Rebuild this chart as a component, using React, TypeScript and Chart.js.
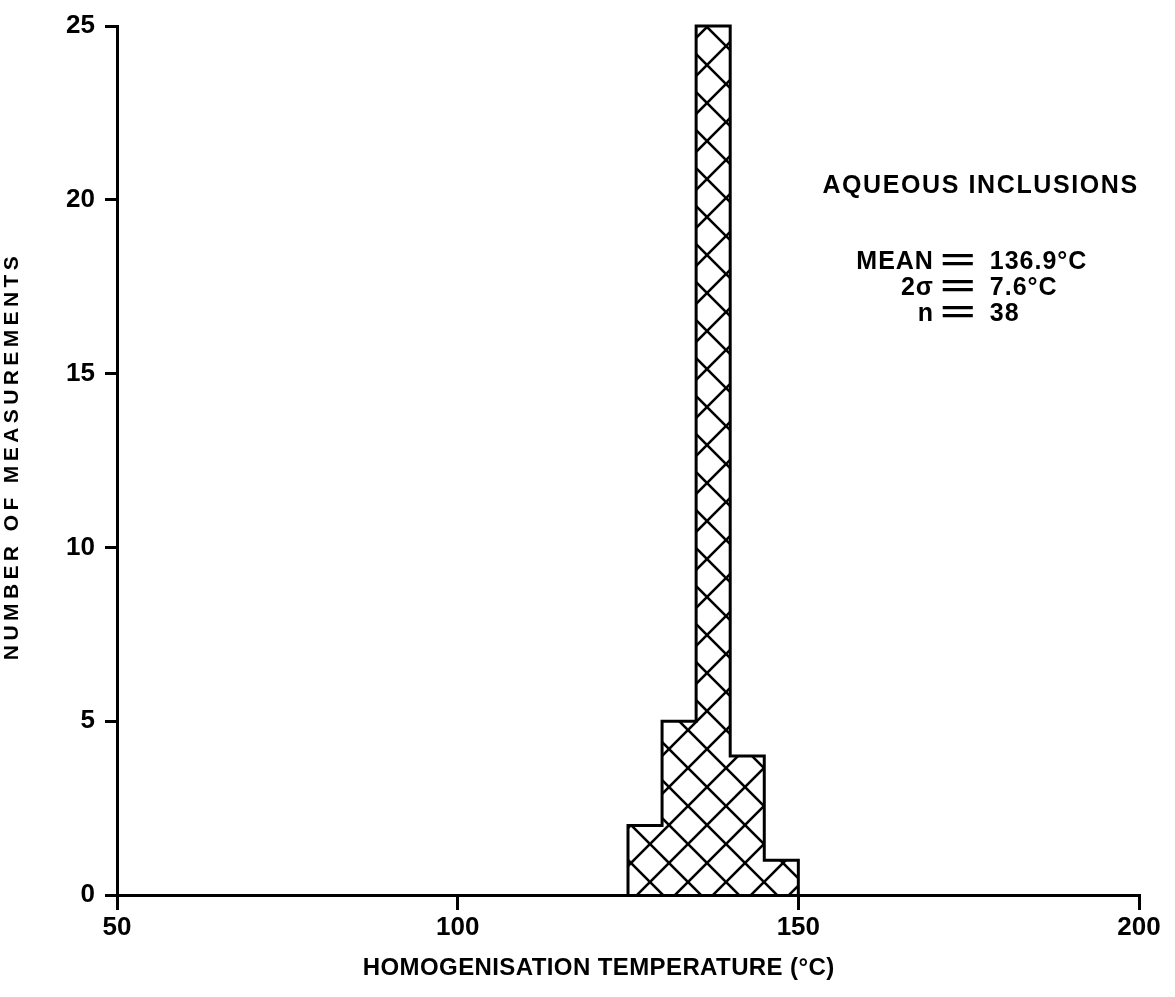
import { useEffect, useRef } from "react";
import { Chart, registerables } from "chart.js";

Chart.register(...registerables);

// ---- data ----
const binStarts = [125, 130, 135, 140, 145];
const binWidth = 5;
const counts = [2, 5, 25, 4, 1];
const xTicks = [50, 100, 150, 200];
const yTicks = [0, 5, 10, 15, 20, 25];
const xTitle = "HOMOGENISATION TEMPERATURE (°C)";
const yTitle = "NUMBER OF MEASUREMENTS";
const annoTitle = "AQUEOUS INCLUSIONS";
const statLeft = ["MEAN", "2σ", "n"];
const statRight = ["136.9°C", "7.6°C", "38"];

const FONT = '"Liberation Sans", Arial, Helvetica, sans-serif';

function buildOutline() {
  const pts: { x: number; y: number }[] = [{ x: binStarts[0], y: 0 }];
  binStarts.forEach((s, i) => {
    pts.push({ x: s, y: counts[i] });
    pts.push({ x: s + binWidth, y: counts[i] });
  });
  pts.push({ x: binStarts[binStarts.length - 1] + binWidth, y: 0 });
  return pts;
}

function makePattern(): CanvasPattern | string {
  const size = 38;
  const c = document.createElement("canvas");
  c.width = size;
  c.height = size;
  const g = c.getContext("2d");
  if (!g) return "rgba(0,0,0,0.2)";
  g.strokeStyle = "#000";
  g.lineWidth = 2.6;
  for (const dx of [-size, 0, size]) {
    g.beginPath();
    g.moveTo(dx, 0);
    g.lineTo(dx + size, size);
    g.stroke();
    g.beginPath();
    g.moveTo(dx + size, 0);
    g.lineTo(dx, size);
    g.stroke();
  }
  const p = g.createPattern(c, "repeat");
  if (!p) return "rgba(0,0,0,0.2)";
  try {
    p.setTransform(new DOMMatrix([1, 0, 0, 1, 4, 8]));
  } catch (e) {
    /* ignore */
  }
  return p;
}

const textPlugin = {
  id: "customTexts",
  afterDraw(chart: any) {
    const { ctx } = chart;
    const xs = chart.scales.x;
    const ys = chart.scales.y;
    ctx.save();
    ctx.fillStyle = "#000";
    ctx.textBaseline = "middle";

    // annotation title
    ctx.textAlign = "center";
    ctx.font = `bold 25px ${FONT}`;
    (ctx as any).letterSpacing = "1.6px";
    ctx.fillText(annoTitle, xs.getPixelForValue(176.6) + 1, ys.getPixelForValue(20.4));

    // statistics, aligned on the equals sign
    (ctx as any).letterSpacing = "1px";
    const leftX = xs.getPixelForValue(169.9);
    const eqX = xs.getPixelForValue(173.4);
    const rightX = xs.getPixelForValue(178.1);
    const statY = [18.2, 17.46, 16.72];
    statLeft.forEach((t, i) => {
      const yy = ys.getPixelForValue(statY[i]);
      ctx.textAlign = "right";
      ctx.fillText(t, leftX, yy);
      ctx.textAlign = "left";
      ctx.fillText(statRight[i], rightX, yy);
      ctx.save();
      ctx.textAlign = "center";
      (ctx as any).letterSpacing = "0px";
      ctx.translate(eqX, yy);
      ctx.scale(2.4, 1.15);
      ctx.fillText("=", 0, 0);
      ctx.restore();
    });

    // x title
    ctx.textAlign = "center";
    (ctx as any).letterSpacing = "0.4px";
    ctx.font = `bold 24px ${FONT}`;
    ctx.fillText(xTitle, xs.getPixelForValue(120.7), chart.height - 29);

    // y title
    ctx.font = `bold 21px ${FONT}`;
    (ctx as any).letterSpacing = "4.4px";
    ctx.translate(12, ys.getPixelForValue(12.63));
    ctx.rotate(-Math.PI / 2);
    ctx.fillText(yTitle, 0, 0);
    ctx.restore();
  },
};

export default function App() {
  const ref = useRef<HTMLCanvasElement>(null);

  useEffect(() => {
    const canvas = ref.current;
    if (!canvas) return;
    const pattern = makePattern();
    const chart = new Chart(canvas, {
      type: "line",
      data: {
        datasets: [
          {
            data: buildOutline(),
            borderColor: "#000",
            borderWidth: 3,
            backgroundColor: pattern as any,
            fill: "origin",
            pointRadius: 0,
            tension: 0,
            clip: 10 as any,
            borderJoinStyle: "miter",
          },
        ],
      },
      options: {
        responsive: false,
        animation: false,
        devicePixelRatio: 1,
        layout: { padding: { top: 26, right: 36, left: 0, bottom: 0 } },
        plugins: {
          legend: { display: false },
          tooltip: { enabled: false },
        },
        scales: {
          x: {
            type: "linear",
            min: 50,
            max: 200,
            afterBuildTicks: (s: any) => {
              s.ticks = xTicks.map((v) => ({ value: v }));
            },
            afterFit: (s: any) => {
              s.height = 102;
            },
            ticks: {
              color: "#000",
              font: { family: FONT, size: 26, weight: "bold" },
              padding: 2,
              maxRotation: 0,
              autoSkip: false,
            },
            grid: {
              drawOnChartArea: false,
              drawTicks: true,
              tickLength: 15,
              color: "#000",
              lineWidth: 3,
            },
            border: { display: true, color: "#000", width: 3 },
          },
          y: {
            type: "linear",
            min: 0,
            max: 25,
            afterBuildTicks: (s: any) => {
              s.ticks = yTicks.map((v) => ({ value: v }));
            },
            afterFit: (s: any) => {
              s.width = 117;
            },
            ticks: {
              color: "#000",
              font: { family: FONT, size: 26, weight: "bold" },
              padding: 10,
              autoSkip: false,
            },
            grid: {
              drawOnChartArea: false,
              drawTicks: true,
              tickLength: 12,
              color: "#000",
              lineWidth: 3,
            },
            border: { display: true, color: "#000", width: 3 },
          },
        },
      },
      plugins: [textPlugin],
    });
    return () => chart.destroy();
  }, []);

  return (
    <div
      style={{
        position: "absolute",
        left: 0,
        top: 0,
        width: 1175,
        height: 997,
        background: "#fff",
      }}
    >
      <canvas ref={ref} width={1175} height={997} style={{ width: 1175, height: 997 }} />
    </div>
  );
}
